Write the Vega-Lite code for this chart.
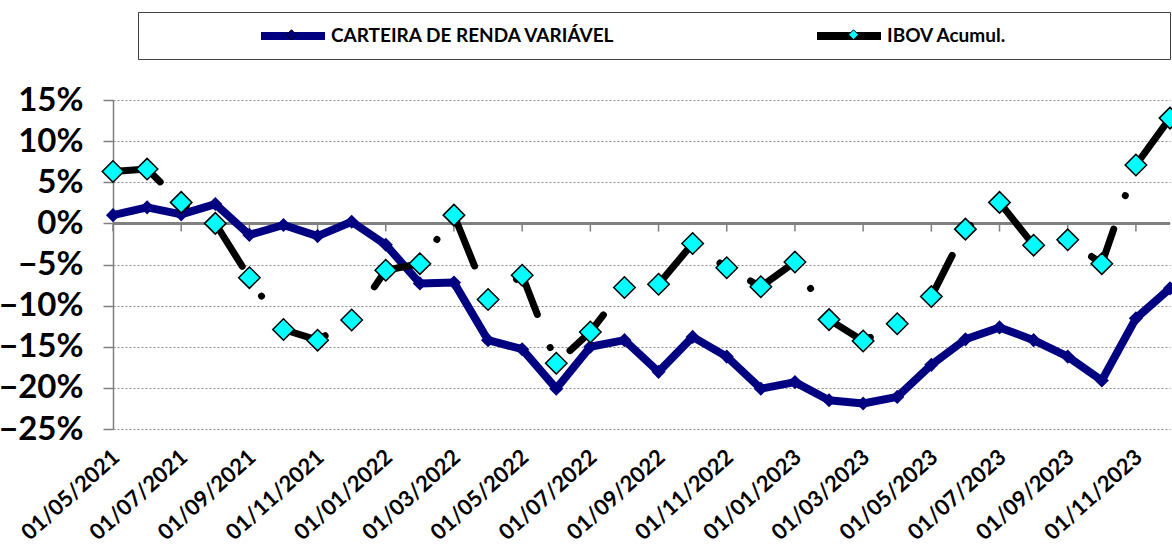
{
  "$schema": "https://vega.github.io/schema/vega-lite/v6.json",
  "width": 1057,
  "height": 329,
  "autosize": {"type": "none"},
  "padding": {"left": 113, "top": 100, "right": 2, "bottom": 119},
  "background": "white",
  "config": {"view": {"stroke": null}, "font": "Lato, sans-serif"},
  "datasets": {
    "d": [
      {"mes": "01/05/2021", "serie": "CARTEIRA DE RENDA VARIÁVEL", "v": 0.010},
      {"mes": "01/06/2021", "serie": "CARTEIRA DE RENDA VARIÁVEL", "v": 0.0195},
      {"mes": "01/07/2021", "serie": "CARTEIRA DE RENDA VARIÁVEL", "v": 0.011},
      {"mes": "01/08/2021", "serie": "CARTEIRA DE RENDA VARIÁVEL", "v": 0.0235},
      {"mes": "01/09/2021", "serie": "CARTEIRA DE RENDA VARIÁVEL", "v": -0.014},
      {"mes": "01/10/2021", "serie": "CARTEIRA DE RENDA VARIÁVEL", "v": -0.002},
      {"mes": "01/11/2021", "serie": "CARTEIRA DE RENDA VARIÁVEL", "v": -0.0155},
      {"mes": "01/12/2021", "serie": "CARTEIRA DE RENDA VARIÁVEL", "v": 0.002},
      {"mes": "01/01/2022", "serie": "CARTEIRA DE RENDA VARIÁVEL", "v": -0.026},
      {"mes": "01/02/2022", "serie": "CARTEIRA DE RENDA VARIÁVEL", "v": -0.073},
      {"mes": "01/03/2022", "serie": "CARTEIRA DE RENDA VARIÁVEL", "v": -0.072},
      {"mes": "01/04/2022", "serie": "CARTEIRA DE RENDA VARIÁVEL", "v": -0.142},
      {"mes": "01/05/2022", "serie": "CARTEIRA DE RENDA VARIÁVEL", "v": -0.153},
      {"mes": "01/06/2022", "serie": "CARTEIRA DE RENDA VARIÁVEL", "v": -0.201},
      {"mes": "01/07/2022", "serie": "CARTEIRA DE RENDA VARIÁVEL", "v": -0.150},
      {"mes": "01/08/2022", "serie": "CARTEIRA DE RENDA VARIÁVEL", "v": -0.142},
      {"mes": "01/09/2022", "serie": "CARTEIRA DE RENDA VARIÁVEL", "v": -0.1805},
      {"mes": "01/10/2022", "serie": "CARTEIRA DE RENDA VARIÁVEL", "v": -0.138},
      {"mes": "01/11/2022", "serie": "CARTEIRA DE RENDA VARIÁVEL", "v": -0.162},
      {"mes": "01/12/2022", "serie": "CARTEIRA DE RENDA VARIÁVEL", "v": -0.201},
      {"mes": "01/01/2023", "serie": "CARTEIRA DE RENDA VARIÁVEL", "v": -0.193},
      {"mes": "01/02/2023", "serie": "CARTEIRA DE RENDA VARIÁVEL", "v": -0.215},
      {"mes": "01/03/2023", "serie": "CARTEIRA DE RENDA VARIÁVEL", "v": -0.219},
      {"mes": "01/04/2023", "serie": "CARTEIRA DE RENDA VARIÁVEL", "v": -0.211},
      {"mes": "01/05/2023", "serie": "CARTEIRA DE RENDA VARIÁVEL", "v": -0.172},
      {"mes": "01/06/2023", "serie": "CARTEIRA DE RENDA VARIÁVEL", "v": -0.141},
      {"mes": "01/07/2023", "serie": "CARTEIRA DE RENDA VARIÁVEL", "v": -0.1265},
      {"mes": "01/08/2023", "serie": "CARTEIRA DE RENDA VARIÁVEL", "v": -0.142},
      {"mes": "01/09/2023", "serie": "CARTEIRA DE RENDA VARIÁVEL", "v": -0.162},
      {"mes": "01/10/2023", "serie": "CARTEIRA DE RENDA VARIÁVEL", "v": -0.191},
      {"mes": "01/11/2023", "serie": "CARTEIRA DE RENDA VARIÁVEL", "v": -0.1155},
      {"mes": "01/12/2023", "serie": "CARTEIRA DE RENDA VARIÁVEL", "v": -0.079},
      {"mes": "01/05/2021", "serie": "IBOV Acumul.", "v": 0.063},
      {"mes": "01/06/2021", "serie": "IBOV Acumul.", "v": 0.066},
      {"mes": "01/07/2021", "serie": "IBOV Acumul.", "v": 0.0255},
      {"mes": "01/08/2021", "serie": "IBOV Acumul.", "v": 0.000},
      {"mes": "01/09/2021", "serie": "IBOV Acumul.", "v": -0.066},
      {"mes": "01/10/2021", "serie": "IBOV Acumul.", "v": -0.129},
      {"mes": "01/11/2021", "serie": "IBOV Acumul.", "v": -0.142},
      {"mes": "01/12/2021", "serie": "IBOV Acumul.", "v": -0.1175},
      {"mes": "01/01/2022", "serie": "IBOV Acumul.", "v": -0.057},
      {"mes": "01/02/2022", "serie": "IBOV Acumul.", "v": -0.049},
      {"mes": "01/03/2022", "serie": "IBOV Acumul.", "v": 0.010},
      {"mes": "01/04/2022", "serie": "IBOV Acumul.", "v": -0.0925},
      {"mes": "01/05/2022", "serie": "IBOV Acumul.", "v": -0.063},
      {"mes": "01/06/2022", "serie": "IBOV Acumul.", "v": -0.170},
      {"mes": "01/07/2022", "serie": "IBOV Acumul.", "v": -0.132},
      {"mes": "01/08/2022", "serie": "IBOV Acumul.", "v": -0.078},
      {"mes": "01/09/2022", "serie": "IBOV Acumul.", "v": -0.074},
      {"mes": "01/10/2022", "serie": "IBOV Acumul.", "v": -0.0245},
      {"mes": "01/11/2022", "serie": "IBOV Acumul.", "v": -0.054},
      {"mes": "01/12/2022", "serie": "IBOV Acumul.", "v": -0.077},
      {"mes": "01/01/2023", "serie": "IBOV Acumul.", "v": -0.047},
      {"mes": "01/02/2023", "serie": "IBOV Acumul.", "v": -0.117},
      {"mes": "01/03/2023", "serie": "IBOV Acumul.", "v": -0.143},
      {"mes": "01/04/2023", "serie": "IBOV Acumul.", "v": -0.122},
      {"mes": "01/05/2023", "serie": "IBOV Acumul.", "v": -0.089},
      {"mes": "01/06/2023", "serie": "IBOV Acumul.", "v": -0.007},
      {"mes": "01/07/2023", "serie": "IBOV Acumul.", "v": 0.0255},
      {"mes": "01/08/2023", "serie": "IBOV Acumul.", "v": -0.0265},
      {"mes": "01/09/2023", "serie": "IBOV Acumul.", "v": -0.020},
      {"mes": "01/10/2023", "serie": "IBOV Acumul.", "v": -0.049},
      {"mes": "01/11/2023", "serie": "IBOV Acumul.", "v": 0.071},
      {"mes": "01/12/2023", "serie": "IBOV Acumul.", "v": 0.128}
    ]
  },
  "data": {"name": "d"},
  "layer": [
    {
      "mark": {"type": "rule", "color": "#808080", "strokeWidth": 1.5},
      "encoding": {
        "y": {"datum": 0, "type": "quantitative", "scale": {"domain": [-0.25, 0.15], "nice": false, "zero": false},
          "axis": {"values": [-0.25, -0.2, -0.15, -0.1, -0.05, 0, 0.05, 0.1, 0.15], "format": ".0%", "title": null,
            "labelFontSize": 33, "labelFontWeight": "bold", "labelColor": "black", "labelPadding": 20,
            "tickSize": 10, "tickColor": "#808080", "tickWidth": 1.5, "domainColor": "#808080", "domainWidth": 1.5,
            "grid": true, "gridColor": "#8c8c8c", "gridDash": [2, 2], "gridWidth": 1}}
      }
    },
    {
      "transform": [
        {"filter": {"field": "serie", "equal": "CARTEIRA DE RENDA VARIÁVEL"}},
        {"filter": {"field": "mes", "oneOf": ["01/05/2021", "01/07/2021", "01/09/2021", "01/11/2021", "01/01/2022", "01/03/2022", "01/05/2022", "01/07/2022", "01/09/2022", "01/11/2022", "01/01/2023", "01/03/2023", "01/05/2023", "01/07/2023", "01/09/2023", "01/11/2023"]}}
      ],
      "mark": {"type": "rule", "color": "#808080", "strokeWidth": 1.5},
      "encoding": {
        "x": {"field": "mes", "type": "ordinal",
          "scale": {"type": "point", "padding": 0, "domain": ["01/05/2021", "01/06/2021", "01/07/2021", "01/08/2021", "01/09/2021", "01/10/2021", "01/11/2021", "01/12/2021", "01/01/2022", "01/02/2022", "01/03/2022", "01/04/2022", "01/05/2022", "01/06/2022", "01/07/2022", "01/08/2022", "01/09/2022", "01/10/2022", "01/11/2022", "01/12/2022", "01/01/2023", "01/02/2023", "01/03/2023", "01/04/2023", "01/05/2023", "01/06/2023", "01/07/2023", "01/08/2023", "01/09/2023", "01/10/2023", "01/11/2023", "01/12/2023"]},
          "axis": {"values": ["01/05/2021", "01/07/2021", "01/09/2021", "01/11/2021", "01/01/2022", "01/03/2022", "01/05/2022", "01/07/2022", "01/09/2022", "01/11/2022", "01/01/2023", "01/03/2023", "01/05/2023", "01/07/2023", "01/09/2023", "01/11/2023"],
            "title": null, "labelAngle": -42, "labelAlign": "right", "labelBaseline": "top", "labelFontSize": 22, "labelFontWeight": "bold", "labelColor": "black",
            "labelPadding": 17, "labelOffset": -4, "labelOverlap": false, "domain": false, "ticks": false, "grid": false}},
        "y": {"datum": 0, "type": "quantitative"},
        "y2": {"datum": -0.01}
      }
    },
    {
      "transform": [{"filter": {"field": "serie", "equal": "CARTEIRA DE RENDA VARIÁVEL"}}],
      "mark": {"type": "line", "strokeWidth": 8, "strokeJoin": "round", "strokeCap": "round"},
      "encoding": {
        "x": {"field": "mes", "type": "ordinal"},
        "y": {"field": "v", "type": "quantitative"},
        "stroke": {"field": "serie", "type": "nominal", "scale": {"range": ["#000080", "#000000"]},
          "legend": {"orient": "none", "legendX": 144, "legendY": -100, "direction": "horizontal", "title": null,
            "symbolType": "stroke", "symbolSize": 4096, "symbolStrokeWidth": 8, "labelFontSize": 19, "labelLimit": 600,
            "labelFontWeight": "bold", "labelColor": "black", "labelOffset": 2, "columnPadding": 185, "padding": 0, "zindex": 0}}
      }
    },
    {
      "transform": [{"filter": {"field": "serie", "equal": "CARTEIRA DE RENDA VARIÁVEL"}}],
      "mark": {"type": "point", "shape": "diamond", "filled": true, "size": 200, "opacity": 1},
      "encoding": {
        "x": {"field": "mes", "type": "ordinal"},
        "y": {"field": "v", "type": "quantitative"},
        "fill": {"field": "serie", "type": "nominal",
          "scale": {"domain": ["CARTEIRA DE RENDA VARIÁVEL", "IBOV Acumul."], "range": ["#000080", "#00FFFF"]},
          "legend": {"orient": "none", "legendX": 25, "legendY": -88, "direction": "horizontal", "title": null,
            "symbolType": "diamond", "symbolSize": 100, "symbolStrokeColor": "black", "symbolStrokeWidth": 1, "symbolOpacity": 1,
            "symbolOffset": 131, "labelOffset": 287, "labelFontSize": 1, "labelOpacity": 0, "columnPadding": 118,
            "padding": 17, "strokeColor": "#404040", "zindex": 1}}
      }
    },
    {
      "transform": [{"filter": {"field": "serie", "equal": "IBOV Acumul."}}],
      "mark": {"type": "line", "strokeWidth": 7, "strokeJoin": "round", "strokeCap": "round",
        "strokeDash": [49, 35.5, 0.01, 35.5], "strokeDashOffset": 116.5},
      "encoding": {
        "x": {"field": "mes", "type": "ordinal"},
        "y": {"field": "v", "type": "quantitative"},
        "stroke": {"field": "serie", "type": "nominal"}
      }
    },
    {
      "transform": [{"filter": {"field": "serie", "equal": "IBOV Acumul."}}],
      "mark": {"type": "point", "shape": "diamond", "filled": true, "size": 460, "opacity": 1, "stroke": "black", "strokeWidth": 1.5},
      "encoding": {
        "x": {"field": "mes", "type": "ordinal"},
        "y": {"field": "v", "type": "quantitative"},
        "fill": {"field": "serie", "type": "nominal"}
      }
    }
  ]
}
